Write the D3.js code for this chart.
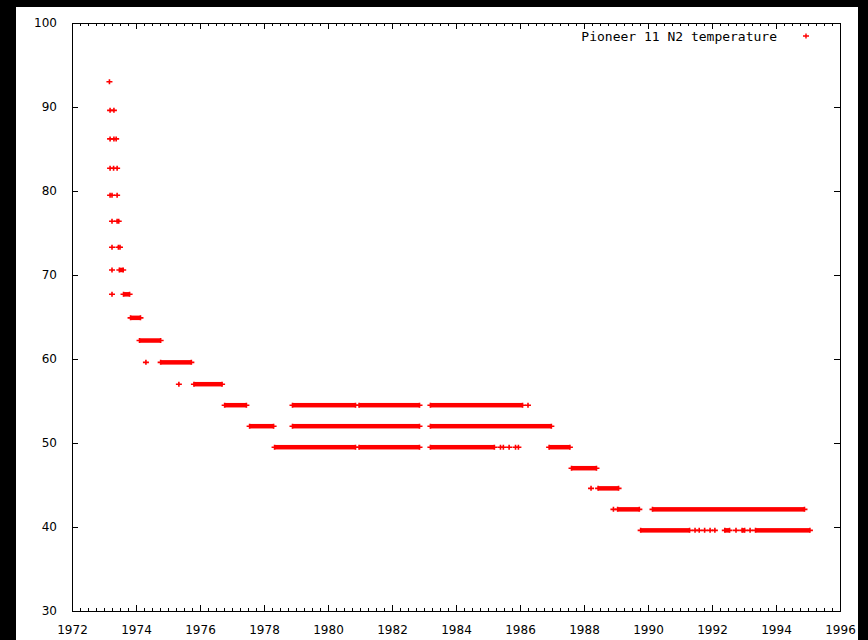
<!DOCTYPE html>
<html>
<head>
<meta charset="utf-8">
<script src="https://cdn.jsdelivr.net/npm/d3@7"></script>
<style>
  html, body { margin: 0; padding: 0; background: #000; }
  svg { display: block; }
</style>
</head>
<body>
<svg id="chart" width="868" height="640"></svg>
<script>
// ---- data ----
const seriesName = "Pioneer 11 N2 temperature";
const xTicks = [1972, 1974, 1976, 1978, 1980, 1982, 1984, 1986, 1988, 1990, 1992, 1994, 1996];
const yTicks = [30, 40, 50, 60, 70, 80, 90, 100];

// continuous runs of readings: [temperature, firstYear, lastYear]
const runs = [
  [70.6, 1973.48, 1973.60],
  [67.7, 1973.61, 1973.80],
  [64.9, 1973.83, 1974.14],
  [62.2, 1974.11, 1974.77],
  [59.6, 1974.77, 1975.73],
  [57.0, 1975.81, 1976.69],
  [54.5, 1976.77, 1977.45],
  [54.5, 1978.89, 1980.86],
  [54.5, 1980.97, 1982.86],
  [54.5, 1983.20, 1986.08],
  [52.0, 1977.55, 1978.30],
  [52.0, 1978.89, 1982.86],
  [52.0, 1983.20, 1986.98],
  [49.5, 1978.33, 1980.86],
  [49.5, 1980.97, 1982.86],
  [49.5, 1983.20, 1985.20],
  [49.5, 1986.91, 1987.56],
  [47.0, 1987.61, 1988.39],
  [44.6, 1988.44, 1989.08],
  [42.1, 1989.05, 1989.73],
  [42.1, 1990.14, 1994.89],
  [39.6, 1989.77, 1991.30],
  [39.6, 1992.40, 1992.55],
  [39.6, 1992.94, 1993.02],
  [39.6, 1993.36, 1995.06]
];

// isolated readings: [year, temperature]
const singles = [
  [1973.17, 93.0],
  [1973.19, 89.6], [1973.31, 89.6],
  [1973.19, 86.2], [1973.31, 86.2], [1973.38, 86.2],
  [1973.19, 82.7], [1973.30, 82.7], [1973.41, 82.7],
  [1973.19, 79.5], [1973.25, 79.5], [1973.41, 79.5],
  [1973.25, 76.4], [1973.41, 76.4], [1973.46, 76.4],
  [1973.25, 73.3], [1973.45, 73.3], [1973.50, 73.3],
  [1973.25, 70.6],
  [1973.25, 67.7],
  [1974.31, 59.6],
  [1975.34, 57.0],
  [1986.25, 54.5],
  [1985.39, 49.5], [1985.48, 49.5], [1985.66, 49.5], [1985.86, 49.5], [1985.95, 49.5],
  [1988.22, 44.6],
  [1988.92, 42.1],
  [1991.47, 39.6], [1991.60, 39.6], [1991.77, 39.6], [1991.94, 39.6], [1992.09, 39.6],
  [1992.75, 39.6], [1993.19, 39.6]
];

// ---- drawing ----
const svg = d3.select("#chart");
const margin = { left: 72, top: 23, right: 840, bottom: 611 };
const red = "#ff0000";

svg.append("rect").attr("x", 16).attr("y", 7).attr("width", 842).attr("height", 633).attr("fill", "#fff");

const x = d3.scaleLinear().domain([1972, 1996]).range([margin.left, margin.right]);
const y = d3.scaleLinear().domain([30, 100]).range([margin.bottom, margin.top]);

const g = svg.append("g");

// minor x ticks (every quarter year), major x ticks, bottom and top
const minorX = d3.range(1972, 1996.001, 0.25).filter(v => Math.abs(v - Math.round(v / 2) * 2) > 1e-6);
const axisBottom = d3.axisBottom(x).tickValues(xTicks).tickFormat(d3.format("d")).tickSizeInner(-6).tickSizeOuter(0).tickPadding(14);
const axisTop = d3.axisTop(x).tickValues(xTicks).tickFormat("").tickSizeInner(-6).tickSizeOuter(0);
const axisLeft = d3.axisLeft(y).tickValues(yTicks).tickFormat(d3.format("d")).tickSizeInner(-6).tickSizeOuter(0).tickPadding(15);
const axisRight = d3.axisRight(y).tickValues(yTicks).tickFormat("").tickSizeInner(-6).tickSizeOuter(0);
const minorBottom = d3.axisBottom(x).tickValues(minorX).tickFormat("").tickSizeInner(-3).tickSizeOuter(0);
const minorTop = d3.axisTop(x).tickValues(minorX).tickFormat("").tickSizeInner(-3).tickSizeOuter(0);

function styleAxis(sel) {
  sel.select(".domain").remove();
  sel.selectAll("line").attr("stroke", "#000").attr("stroke-width", 1).attr("shape-rendering", "crispEdges");
  sel.selectAll("text").attr("fill", "#000").style("font-family", "'DejaVu Sans', Verdana, sans-serif").style("font-size", "12px");
}

g.append("g").attr("transform", `translate(0,${margin.bottom})`).call(axisBottom).call(styleAxis);
g.append("g").attr("transform", `translate(0,${margin.top})`).call(axisTop).call(styleAxis);
g.append("g").attr("transform", `translate(0,${margin.bottom})`).call(minorBottom).call(styleAxis);
g.append("g").attr("transform", `translate(0,${margin.top})`).call(minorTop).call(styleAxis);
g.append("g").attr("transform", `translate(${margin.left},0)`).call(axisLeft).call(styleAxis);
g.append("g").attr("transform", `translate(${margin.right},0)`).call(axisRight).call(styleAxis);

// frame
g.append("rect")
  .attr("x", margin.left + 0.5).attr("y", margin.top + 0.5)
  .attr("width", margin.right - margin.left).attr("height", margin.bottom - margin.top)
  .attr("fill", "none").attr("stroke", "#000").attr("stroke-width", 1);

const plus = "M-3,0H3M0,-2.5V2.5";
const marks = g.append("g");

// runs: dense band of readings
marks.selectAll("rect.run").data(runs).join("rect")
  .attr("class", "run")
  .attr("x", d => x(d[1]))
  .attr("width", d => Math.max(0, x(d[2]) - x(d[1])))
  .attr("y", d => y(d[0]) - 2.25)
  .attr("height", 4.5)
  .attr("fill", red);

const endPoints = runs.flatMap(d => [[d[1], d[0]], [d[2], d[0]]]);
marks.selectAll("path.pt").data(endPoints.concat(singles)).join("path")
  .attr("class", "pt")
  .attr("transform", d => `translate(${x(d[0])},${y(d[1])})`)
  .attr("d", plus)
  .attr("stroke", red)
  .attr("stroke-width", 1.6)
  .attr("fill", "none");

// legend
const legend = g.append("g");
legend.append("text")
  .attr("x", 777).attr("y", 36)
  .attr("dy", "0.35em")
  .attr("text-anchor", "end")
  .style("font-family", "'DejaVu Sans Mono', 'Liberation Mono', monospace")
  .style("font-size", "13px")
  .attr("fill", "#000")
  .text(seriesName);
legend.append("path")
  .attr("transform", "translate(806,36)")
  .attr("d", plus)
  .attr("stroke", red)
  .attr("stroke-width", 1.4)
  .attr("fill", "none");
</script>
</body>
</html>
